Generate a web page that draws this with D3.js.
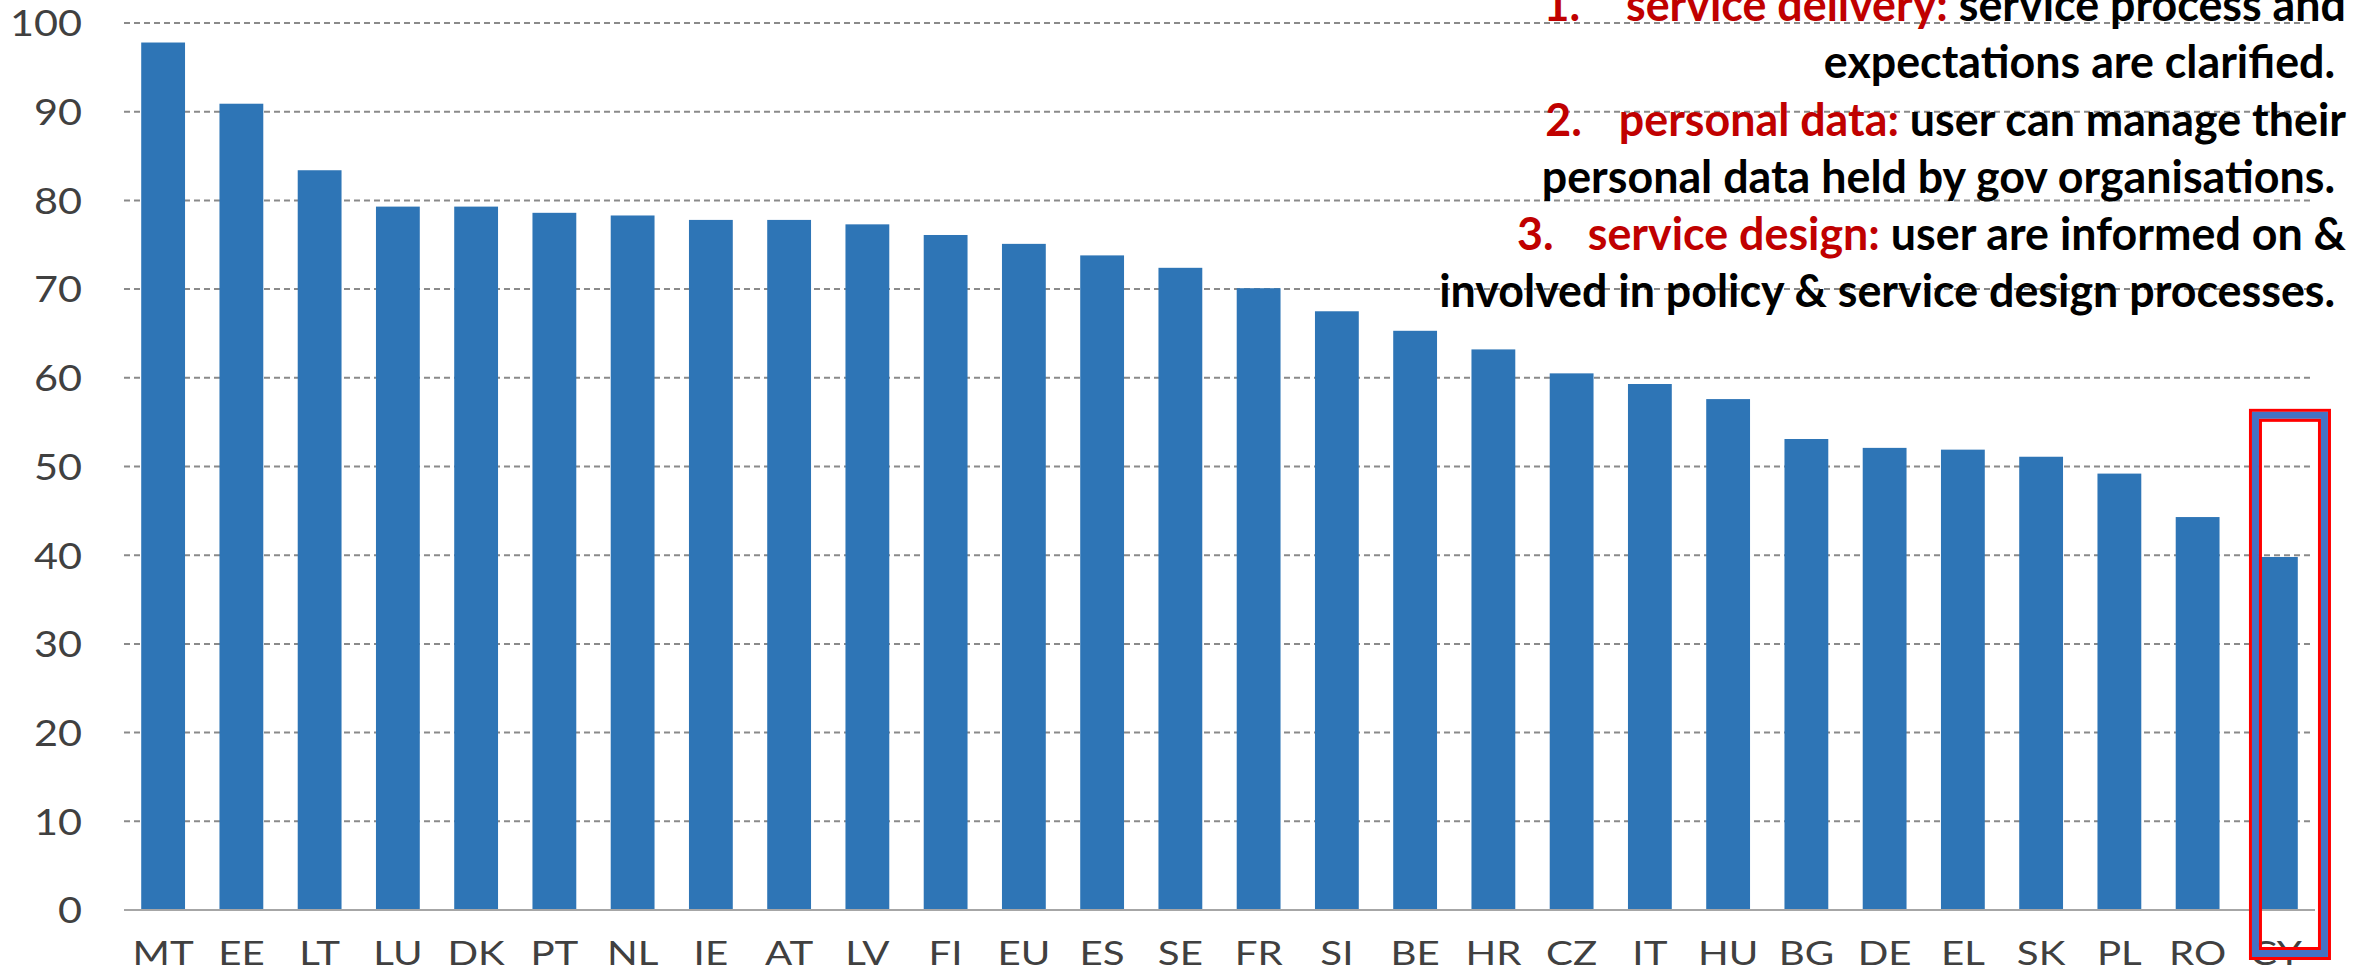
<!DOCTYPE html>
<html>
<head>
<meta charset="utf-8">
<script src="https://cdn.jsdelivr.net/npm/d3@7"></script>
<style>
  body { margin: 0; background: #fff; }
  svg { display: block; }
</style>
</head>
<body>
<svg width="2358" height="973"></svg>
<script>
var countries = ["MT", "EE", "LT", "LU", "DK", "PT", "NL", "IE", "AT", "LV", "FI", "EU", "ES", "SE",
                 "FR", "SI", "BE", "HR", "CZ", "IT", "HU", "BG", "DE", "EL", "SK", "PL", "RO", "CY"];
var scores = [97.8, 90.9, 83.4, 79.3, 79.3, 78.6, 78.3, 77.8, 77.8, 77.3, 76.1, 75.1, 73.8, 72.4,
              70.1, 67.5, 65.3, 63.2, 60.5, 59.3, 57.6, 53.1, 52.1, 51.9, 51.1, 49.2, 44.3, 39.8];
var yTicks = [0, 10, 20, 30, 40, 50, 60, 70, 80, 90, 100];
var highlight = "CY";

// annotation lines: pieces of [text, colour, gap before]
var notes = [
    [["1.", "red", 0], ["service delivery:", "red", 47], [" service process and", "black", 0]],
    [["expectations are clarified. ", "black", 0]],
    [["2.", "red", 0], ["personal data:", "red", 38], [" user can manage their", "black", 0]],
    [["personal data held by gov organisations. ", "black", 0]],
    [["3.", "red", 0], ["service design:", "red", 35], [" user are informed on &", "black", 0]],
    [["involved in policy & service design processes. ", "black", 0]]
];

var svg = d3.select("svg"),
    width = +svg.attr("width"),
    height = +svg.attr("height");

var x = d3.scaleBand()
    .domain(countries)
    .range([124, 2315])
    .paddingInner(0.44)
    .paddingOuter(0.22);

var y = d3.scaleLinear()
    .domain([0, 100])
    .range([910, 23]);

svg.append("rect")
    .attr("width", width)
    .attr("height", height)
    .attr("fill", "#fff");

// gridlines
svg.append("g")
    .selectAll("line")
    .data(yTicks.filter(function(d) { return d > 0; }))
    .enter().append("line")
    .attr("x1", 124)
    .attr("x2", 2313)
    .attr("y1", function(d) { return y(d); })
    .attr("y2", function(d) { return y(d); })
    .attr("stroke", "#8a8a8a")
    .attr("stroke-width", 2)
    .attr("stroke-dasharray", "6,4");

// y tick labels (the original is a little stretched sideways)
svg.append("g")
    .selectAll("text")
    .data(yTicks)
    .enter().append("text")
    .attr("transform", function(d) { return "translate(82," + y(d) + ") scale(1.12,1)"; })
    .attr("dy", "0.36em")
    .attr("text-anchor", "end")
    .attr("font-family", "Lato, sans-serif")
    .attr("font-size", 37)
    .attr("fill", "#404040")
    .text(function(d) { return d; });

// bars
svg.append("g")
    .selectAll("rect")
    .data(countries)
    .enter().append("rect")
    .attr("x", function(d) { return x(d); })
    .attr("width", x.bandwidth())
    .attr("y", function(d, i) { return y(scores[i]); })
    .attr("height", function(d, i) { return y(0) - y(scores[i]); })
    .attr("fill", "#2e75b6");

// zero axis line
svg.append("line")
    .attr("x1", 124)
    .attr("x2", 2315)
    .attr("y1", y(0))
    .attr("y2", y(0))
    .attr("stroke", "#a6a6a6")
    .attr("stroke-width", 2);

// x labels
svg.append("g")
    .selectAll("text")
    .data(countries)
    .enter().append("text")
    .attr("transform", function(d) {
        return "translate(" + (x(d) + x.bandwidth() / 2) + ",965) scale(1.22,1)";
    })
    .attr("text-anchor", "middle")
    .attr("font-family", "Lato, sans-serif")
    .attr("font-size", 33)
    .attr("fill", "#404040")
    .text(function(d) { return d; });

// highlight box around the last country
var bx = x(highlight) - 5,
    bw = 82,
    by = y(56.5),
    bh = y(0) + 50 - by;
[[1.5, "#ff0000", 3], [6.5, "#4472c4", 7], [11.5, "#ff0000", 3]].forEach(function(s) {
    svg.append("rect")
        .attr("x", bx + s[0])
        .attr("y", by + s[0])
        .attr("width", bw - 2 * s[0])
        .attr("height", bh - 2 * s[0])
        .attr("fill", "none")
        .attr("stroke", s[1])
        .attr("stroke-width", s[2]);
});

// annotation text, right aligned
var colours = { red: "#c00000", black: "#000" };
var noteG = svg.append("g");
var lines = noteG.selectAll("text")
    .data(notes)
    .enter().append("text")
    .attr("x", 2346)
    .attr("y", function(d, i) { return 21 + i * 57.3; })
    .attr("text-anchor", "end")
    .attr("font-family", "Lato, sans-serif")
    .attr("font-weight", 700)
    .attr("font-size", 46)
    .style("white-space", "pre");

lines.selectAll("tspan")
    .data(function(d) { return d; })
    .enter().append("tspan")
    .attr("dx", function(d) { return d[2]; })
    .attr("fill", function(d) { return colours[d[1]]; })
    .text(function(d) { return d[0]; });

// squeeze horizontally so the longest line spans like the original
var longest = lines.nodes()[5].getComputedTextLength();
var sx = 907 / longest;
noteG.attr("transform", "translate(2346,0) scale(" + sx + ",1) translate(-2346,0)");
</script>
</body>
</html>
